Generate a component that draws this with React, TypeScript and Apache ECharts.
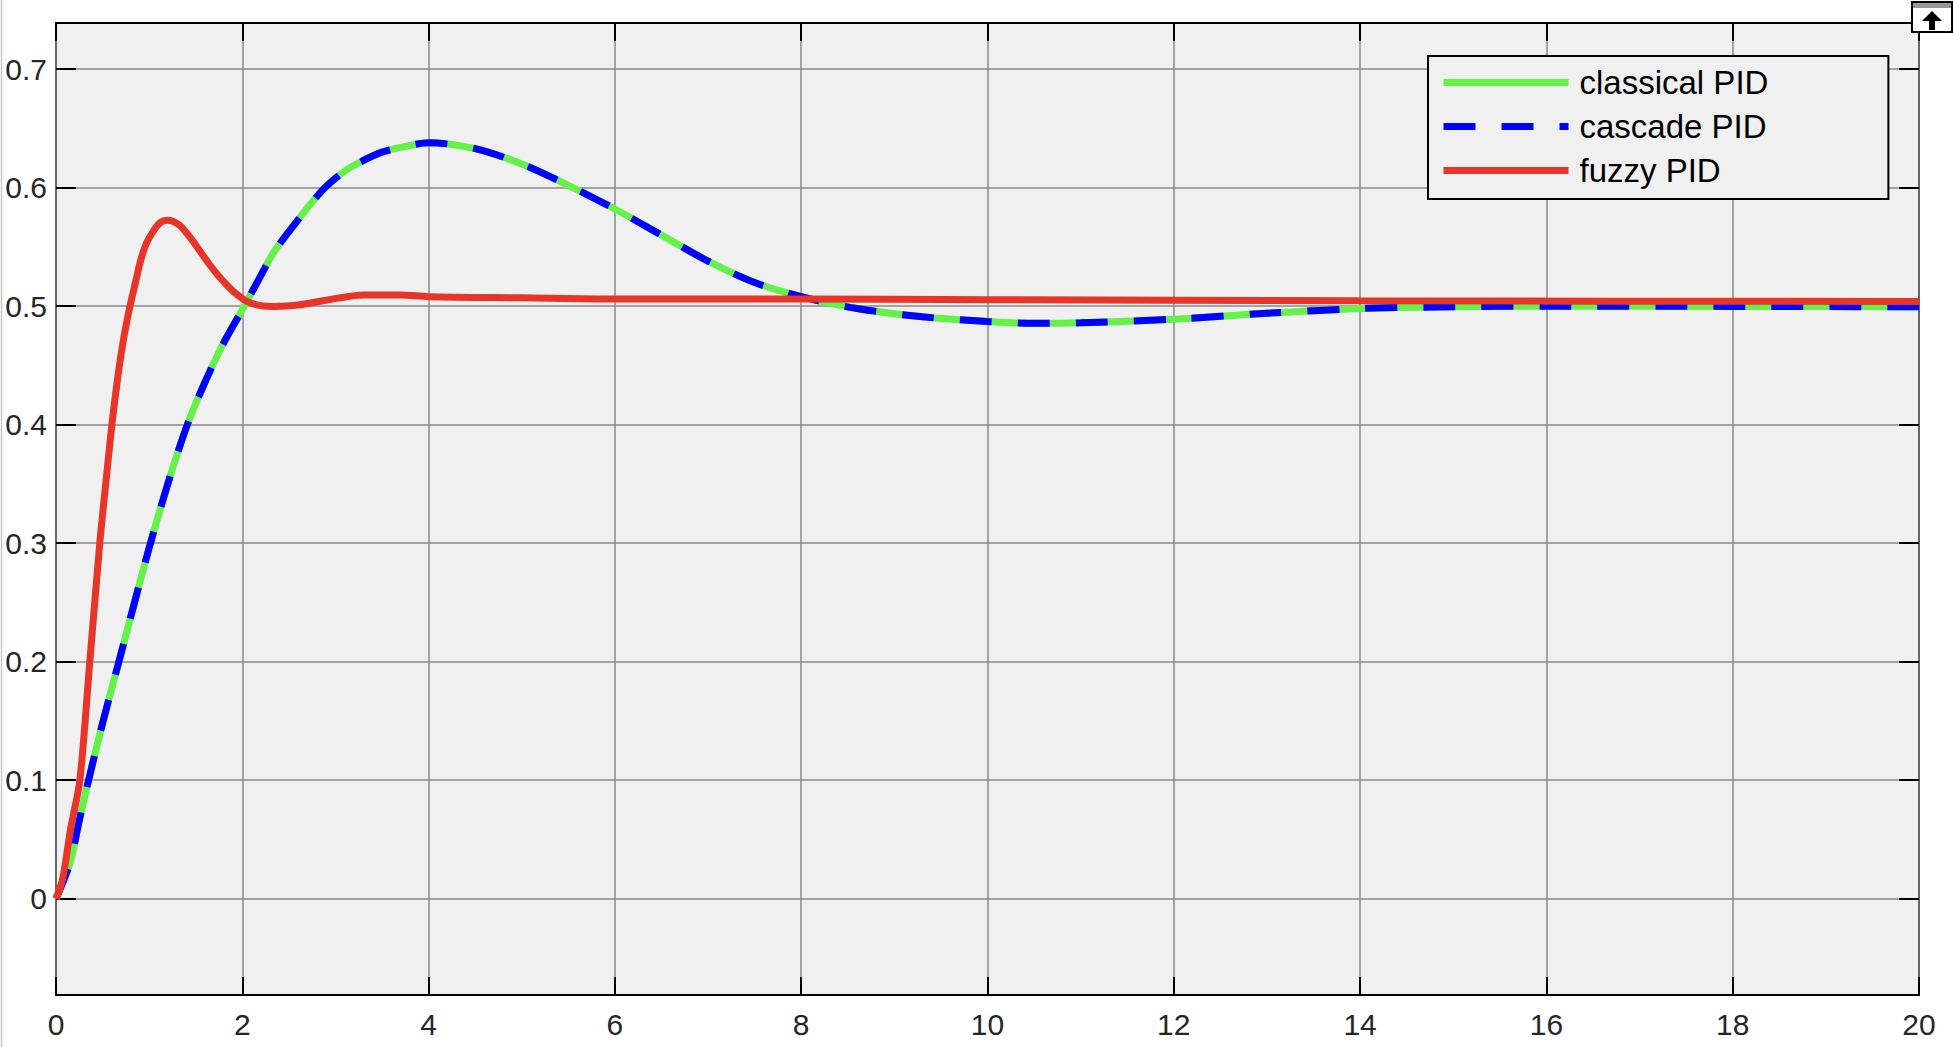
import React, { useEffect, useRef } from "react";
import * as echarts from "echarts";

const timeTicks = [0, 2, 4, 6, 8, 10, 12, 14, 16, 18, 20];
const valueTicks = [0, 0.1, 0.2, 0.3, 0.4, 0.5, 0.6, 0.7];

const seriesNames = ["classical PID", "cascade PID", "fuzzy PID"];

const classicalT = [0, 0.15, 0.25, 0.35, 0.5, 0.675, 0.85, 1.0, 1.2, 1.41, 1.6, 1.8, 2.0, 2.2, 2.35, 2.6, 2.75, 2.9, 3.1, 3.3, 3.5, 3.7, 4.0, 4.5, 5.0, 5.5, 6.0, 6.5, 7.0, 7.5, 8.0, 8.6, 9.3, 10.0, 10.5, 11.0, 12.0, 13.0, 14.0, 15.0, 16.0, 18.0, 20.0];
const classicalV = [0, 0.03, 0.066, 0.1, 0.148, 0.2, 0.252, 0.296, 0.35, 0.4, 0.436, 0.469, 0.497, 0.526, 0.547, 0.573, 0.588, 0.601, 0.614, 0.623, 0.63, 0.634, 0.638, 0.633, 0.62, 0.602, 0.582, 0.56, 0.538, 0.52, 0.508, 0.498, 0.491, 0.487, 0.4855, 0.486, 0.489, 0.494, 0.498, 0.4995, 0.5, 0.4998, 0.4995];

const cascadeT = [0, 0.15, 0.25, 0.35, 0.5, 0.675, 0.85, 1.0, 1.2, 1.41, 1.6, 1.8, 2.0, 2.2, 2.35, 2.6, 2.75, 2.9, 3.1, 3.3, 3.5, 3.7, 4.0, 4.5, 5.0, 5.5, 6.0, 6.5, 7.0, 7.5, 8.0, 8.6, 9.3, 10.0, 10.5, 11.0, 12.0, 13.0, 14.0, 15.0, 16.0, 18.0, 20.0];
const cascadeV = [0, 0.03, 0.066, 0.1, 0.148, 0.2, 0.252, 0.296, 0.35, 0.4, 0.436, 0.469, 0.497, 0.526, 0.547, 0.573, 0.588, 0.601, 0.614, 0.623, 0.63, 0.634, 0.638, 0.633, 0.62, 0.602, 0.582, 0.56, 0.538, 0.52, 0.508, 0.498, 0.491, 0.487, 0.4855, 0.486, 0.489, 0.494, 0.498, 0.4995, 0.5, 0.4998, 0.4995];

const fuzzyT = [0, 0.04, 0.08, 0.16, 0.256, 0.363, 0.47, 0.53, 0.6, 0.65, 0.7, 0.75, 0.8, 0.85, 0.91, 0.97, 1.05, 1.12, 1.19, 1.26, 1.33, 1.45, 1.55, 1.64, 1.73, 1.82, 1.91, 2.05, 2.2, 2.35, 2.6, 2.9, 3.3, 3.7, 4.0, 5.0, 6.0, 8.0, 10.0, 14.0, 20.0];
const fuzzyV = [0, 0.008, 0.02, 0.06, 0.1, 0.2, 0.3, 0.347, 0.4, 0.432, 0.46, 0.483, 0.502, 0.519, 0.539, 0.553, 0.564, 0.5705, 0.5725, 0.5715, 0.568, 0.557, 0.546, 0.536, 0.527, 0.519, 0.512, 0.504, 0.5005, 0.4998, 0.501, 0.505, 0.5095, 0.5095, 0.508, 0.507, 0.506, 0.506, 0.5055, 0.5045, 0.504];

const Y_MIN = -0.0814;
const Y_MAX = 0.739;

const zip = (t: number[], v: number[]) => t.map((x, i) => [x, v[i]]);

export default function App() {
  const ref = useRef<HTMLDivElement>(null);
  useEffect(() => {
    if (!ref.current) return;
    const chart = echarts.init(ref.current, null, { renderer: "svg" });
    const font = "Liberation Sans";
    const gridColor = "#8a8a8a";
    const tickStyle = { color: "#000", width: 2 };
    const option: any = {
      animation: false,
      backgroundColor: "#ffffff",
      grid: {
        left: 56,
        top: 23,
        right: 34,
        bottom: 52,
        show: true,
        backgroundColor: "#f0f0f0",
        borderColor: "#000000",
        borderWidth: 2,
      },
      xAxis: [
        {
          type: "value",
          min: timeTicks[0],
          max: timeTicks[timeTicks.length - 1],
          interval: 2,
          position: "bottom",
          axisLine: { show: false, onZero: false },
          axisTick: { show: true, inside: true, length: 18, lineStyle: tickStyle },
          axisLabel: { fontSize: 30, fontFamily: font, color: "#262626", margin: 14, formatter: (v: number) => String(v) },
          splitLine: { show: true, lineStyle: { color: gridColor, width: 1.5 } },
        },
        {
          type: "value",
          min: timeTicks[0],
          max: timeTicks[timeTicks.length - 1],
          interval: 2,
          position: "top",
          axisLine: { show: false, onZero: false },
          axisTick: { show: true, inside: true, length: 18, lineStyle: tickStyle },
          axisLabel: { show: false },
          splitLine: { show: false },
        },
      ],
      yAxis: [
        {
          type: "value",
          min: Y_MIN,
          max: Y_MAX,
          position: "left",
          axisLine: { show: false, onZero: false },
          axisTick: { show: true, inside: true, length: 20, customValues: valueTicks, lineStyle: tickStyle },
          axisLabel: { fontSize: 30, fontFamily: font, color: "#262626", margin: 9, customValues: valueTicks, formatter: (v: number) => String(v) },
          splitLine: { show: true, lineStyle: { color: gridColor, width: 1.5 } },
        },
        {
          type: "value",
          min: Y_MIN,
          max: Y_MAX,
          position: "right",
          axisLine: { show: false, onZero: false },
          axisTick: { show: true, inside: true, length: 20, customValues: valueTicks, lineStyle: tickStyle },
          axisLabel: { show: false, customValues: valueTicks },
          splitLine: { show: false },
        },
      ],
      legend: {
        data: seriesNames,
        orient: "vertical",
        left: 1428,
        top: 56,
        itemWidth: 125,
        itemHeight: 32,
        itemGap: 11,
        padding: [10, 120, 12, 12],
        backgroundColor: "#f0f0f0",
        borderColor: "#000",
        borderWidth: 2,
        selectedMode: false,
        itemStyle: { opacity: 0 },
        lineStyle: { width: 7 },
        textStyle: { fontSize: 33, fontFamily: font, color: "#000", padding: [0, 0, 0, 6] },
      },
      series: [
        {
          name: seriesNames[0],
          type: "line",
          symbol: "none",
          smooth: 0.3,
          xAxisIndex: 0,
          yAxisIndex: 0,
          data: zip(classicalT, classicalV),
          lineStyle: { color: "#66f04a", width: 7 },
          itemStyle: { color: "#66f04a" },
          z: 2,
        },
        {
          name: seriesNames[1],
          type: "line",
          symbol: "none",
          smooth: 0.3,
          xAxisIndex: 0,
          yAxisIndex: 0,
          data: zip(cascadeT, cascadeV),
          lineStyle: { color: "#0000ff", width: 7, type: [32, 26] },
          itemStyle: { color: "#0000ff" },
          z: 3,
        },
        {
          name: seriesNames[2],
          type: "line",
          symbol: "none",
          smooth: 0.3,
          xAxisIndex: 0,
          yAxisIndex: 0,
          data: zip(fuzzyT, fuzzyV),
          lineStyle: { color: "#e8352a", width: 7 },
          itemStyle: { color: "#e8352a" },
          z: 4,
        },
      ],
      graphic: [
        { type: "line", shape: { x1: 1.5, y1: 0, x2: 1.5, y2: 1047 }, style: { stroke: "#c8c8c8", lineWidth: 1.5 }, z: 100 },
        { type: "rect", shape: { x: 1912, y: 2, width: 40, height: 30 }, style: { fill: "#ffffff", stroke: "#000", lineWidth: 2 }, z: 100 },
        { type: "rect", shape: { x: 1913, y: 3, width: 38, height: 5 }, style: { fill: "#9a9a9a" }, z: 101 },
        { type: "polygon", shape: { points: [[1932, 11], [1922, 21], [1942, 21]] }, style: { fill: "#000" }, z: 101 },
        { type: "rect", shape: { x: 1929, y: 20, width: 6, height: 10 }, style: { fill: "#000" }, z: 101 },
      ],
    };
    chart.setOption(option);
    return () => chart.dispose();
  }, []);
  return <div ref={ref} style={{ position: "fixed", left: 0, top: 0, width: 1953, height: 1047 }} />;
}
